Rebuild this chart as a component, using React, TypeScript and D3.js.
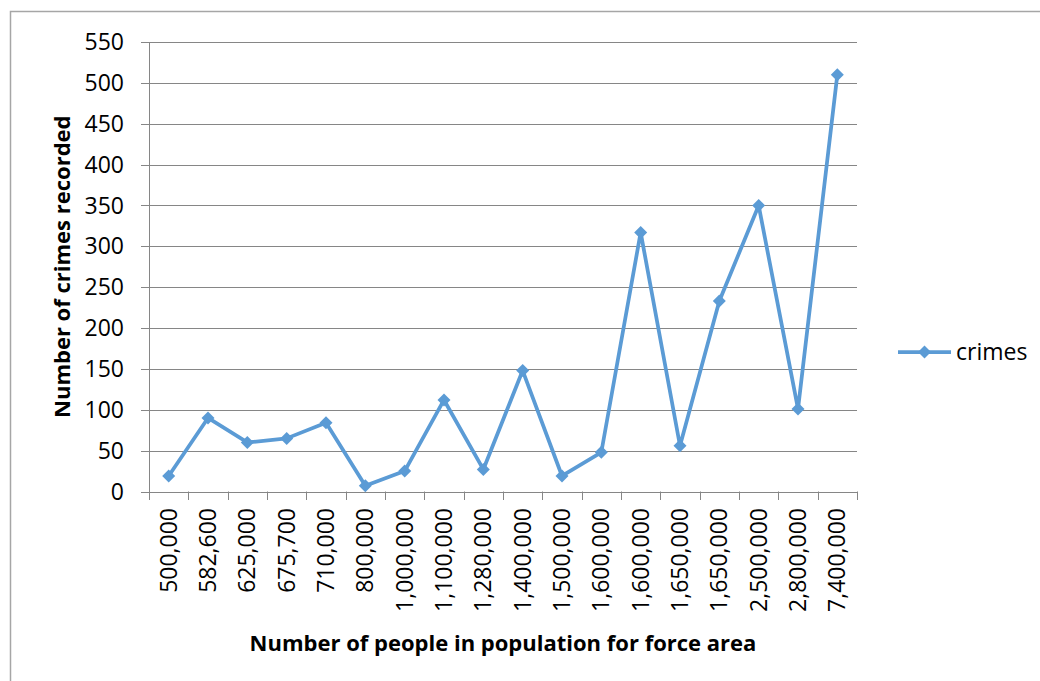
import React from "react";
import * as d3 from "d3";

const categories: string[] = [
  "500,000", "582,600", "625,000", "675,700", "710,000", "800,000",
  "1,000,000", "1,100,000", "1,280,000", "1,400,000", "1,500,000", "1,600,000",
  "1,600,000", "1,650,000", "1,650,000", "2,500,000", "2,800,000", "7,400,000",
];
const crimes: number[] = [19, 90, 60, 65, 84, 7, 25, 112, 27, 148, 19, 48, 317, 56, 233, 350, 101, 510];
const yTicks: number[] = [0, 50, 100, 150, 200, 250, 300, 350, 400, 450, 500, 550];
const seriesName = "crimes";
const xTitle = "Number of people in population for force area";
const yTitle = "Number of crimes recorded";

const W = 1040;
const H = 681;
const left = 149;
const right = 857;
const top = 42;
const bottom = 491.5;
const FONT = "'Open Sans', sans-serif";
const BLUE = "#5B9BD5";
const GRID = "#868686";

export default function App() {
  const idx = categories.map((_, i) => i);
  const x = d3.scaleBand<number>().domain(idx).range([left, right]).padding(0);
  const y = d3.scaleLinear().domain([0, 550]).range([bottom, top]);
  const cx = (i: number) => (x(i) as number) + x.bandwidth() / 2;
  const line = d3.line<number>().x((_, i) => cx(i)).y((d) => y(d));
  const diamond = (px: number, py: number, r = 6.5) =>
    `M${px},${py - r}L${px + r},${py}L${px},${py + r}L${px - r},${py}Z`;
  const boundaries = d3.range(categories.length + 1).map((i) => left + i * x.bandwidth());

  return (
    <svg width={W} height={H} style={{ position: "absolute", left: 0, top: 0 }} fontFamily={FONT}>
      <rect x={0} y={0} width={W} height={H} fill="#fff" />
      <rect x={10.5} y={11.5} width={W + 20} height={H + 20} fill="none" stroke="#a6a6a6" strokeWidth={1.5} />
      {yTicks.map((t) => (
        <g key={t}>
          {t > 0 && (
            <line x1={141} x2={right} y1={Math.round(y(t)) + 0.5} y2={Math.round(y(t)) + 0.5} stroke={GRID} strokeWidth={1} />
          )}
          <text x={124} y={y(t)} dy="0.35em" textAnchor="end" fontSize={23} fill="#000">
            {t}
          </text>
        </g>
      ))}
      <line x1={141} x2={right} y1={Math.round(bottom) + 0.5} y2={Math.round(bottom) + 0.5} stroke={GRID} />
      <line x1={left + 0.5} x2={left + 0.5} y1={top} y2={bottom + 0.5} stroke={GRID} />
      {boundaries.map((b, i) => (
        <line key={i} x1={Math.round(b) + 0.5} x2={Math.round(b) + 0.5} y1={bottom} y2={500} stroke={GRID} />
      ))}
      {categories.map((c, i) => (
        <text
          key={i}
          transform={`translate(${cx(i)},508) rotate(-90)`}
          dy="0.35em"
          textAnchor="end"
          fontSize={23}
          fill="#000"
        >
          {c}
        </text>
      ))}
      <path d={line(crimes) || ""} fill="none" stroke={BLUE} strokeWidth={3.75} strokeLinejoin="round" />
      {crimes.map((v, i) => (
        <path key={i} d={diamond(cx(i), y(v))} fill={BLUE} />
      ))}
      <text
        transform={`translate(62,${(top + bottom) / 2}) rotate(-90)`}
        textAnchor="middle"
        dy="0.35em"
        fontSize={22}
        fontWeight="bold"
        fill="#000"
      >
        {yTitle}
      </text>
      <text x={503} y={651} textAnchor="middle" fontSize={22} fontWeight="bold" fill="#000">
        {xTitle}
      </text>
      <line x1={898} x2={951} y1={352} y2={352} stroke={BLUE} strokeWidth={3.75} />
      <path d={diamond(924.5, 352)} fill={BLUE} />
      <text x={956} y={352} dy="0.35em" fontSize={23} fill="#000">
        {seriesName}
      </text>
    </svg>
  );
}
